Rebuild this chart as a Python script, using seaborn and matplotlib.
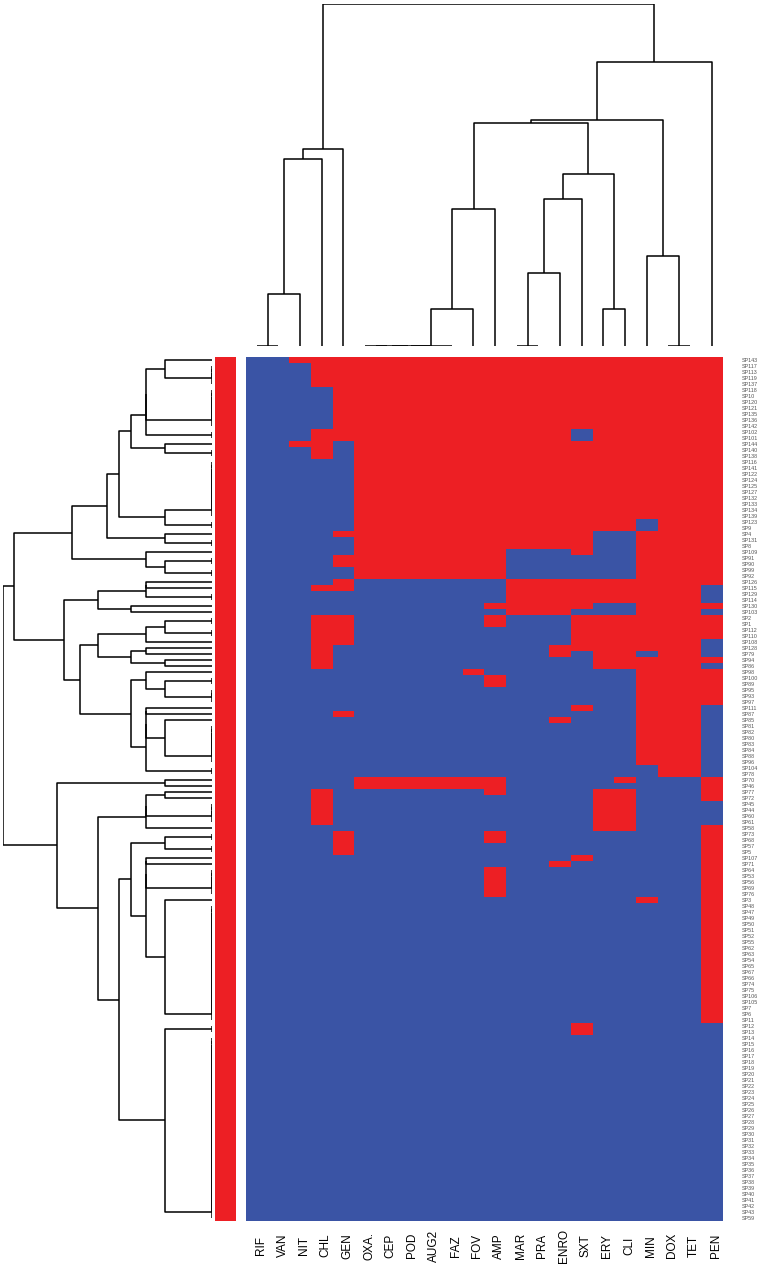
import numpy as np
import pandas as pd
import matplotlib
matplotlib.use("Agg")
import matplotlib.pyplot as plt
import matplotlib.transforms as mtransforms
import seaborn as sns
from matplotlib.colors import ListedColormap

antibiotics = ["RIF", "VAN", "NIT", "CHL", "GEN",
               "OXA.", "CEP", "POD", "AUG2", "FAZ", "FOV", "AMP",
               "MAR", "PRA", "ENRO", "SXT", "ERY", "CLI",
               "MIN", "DOX", "TET", "PEN"]

sample_labels = [
    "SP143", "SP117", "SP113", "SP119", "SP137", "SP118", "SP10", "SP120", "SP121", "SP135",
    "SP136", "SP142", "SP102", "SP101", "SP144", "SP140", "SP138", "SP116", "SP141", "SP122",
    "SP124", "SP125", "SP127", "SP132", "SP133", "SP134", "SP139", "SP123", "SP9", "SP4",
    "SP131", "SP8", "SP109", "SP91", "SP90", "SP99", "SP92", "SP126", "SP115", "SP129",
    "SP114", "SP130", "SP103", "SP2", "SP1", "SP112", "SP110", "SP108", "SP128", "SP79",
    "SP94", "SP86", "SP98", "SP100", "SP89", "SP95", "SP93", "SP97", "SP111", "SP87",
    "SP85", "SP81", "SP82", "SP80", "SP83", "SP84", "SP88", "SP96", "SP104", "SP78",
    "SP70", "SP46", "SP77", "SP72", "SP45", "SP44", "SP60", "SP61", "SP58", "SP73",
    "SP68", "SP57", "SP5", "SP107", "SP71", "SP64", "SP53", "SP56", "SP69", "SP76",
    "SP3", "SP48", "SP47", "SP49", "SP50", "SP51", "SP52", "SP55", "SP62", "SP63",
    "SP54", "SP65", "SP67", "SP66", "SP74", "SP75", "SP106", "SP105", "SP7", "SP6",
    "SP11", "SP12", "SP13", "SP14", "SP15", "SP16", "SP17", "SP18", "SP19", "SP20",
    "SP21", "SP22", "SP23", "SP24", "SP25", "SP26", "SP27", "SP28", "SP29", "SP30",
    "SP31", "SP32", "SP33", "SP34", "SP35", "SP36", "SP37", "SP38", "SP39", "SP40",
    "SP41", "SP42", "SP43", "SP59",
]

# runs of identical rows, top to bottom: (number of rows, profile)
# profile: RIF VAN NIT CHL GEN | OXA CEP POD AUG2 FAZ FOV AMP | MAR PRA ENRO SXT ERY CLI | MIN DOX TET PEN
# 1 = resistant (red), 0 = susceptible (blue)
profile_runs = [
    (1, "00111 1111111 111111 1111"),
    (4, "00011 1111111 111111 1111"),
    (7, "00001 1111111 111111 1111"),
    (2, "00011 1111111 111011 1111"),
    (1, "00110 1111111 111111 1111"),
    (2, "00010 1111111 111111 1111"),
    (10, "00000 1111111 111111 1111"),
    (2, "00000 1111111 111111 0111"),
    (1, "00001 1111111 111100 1111"),
    (2, "00000 1111111 111100 1111"),
    (1, "00000 1111111 000100 1111"),
    (2, "00001 1111111 000000 1111"),
    (2, "00000 1111111 000000 1111"),
    (1, "00001 0000000 111111 1111"),
    (1, "00011 0000000 111111 1110"),
    (2, "00000 0000000 111111 1110"),
    (1, "00000 0000001 111100 1111"),
    (1, "00000 0000000 111000 1110"),
    (2, "00011 0000001 000111 1111"),
    (2, "00011 0000000 000111 1111"),
    (1, "00011 0000000 000111 1110"),
    (1, "00010 0000000 001111 1110"),
    (1, "00010 0000000 001011 0110"),
    (1, "00010 0000000 000011 1111"),
    (1, "00010 0000000 000011 1110"),
    (1, "00000 0000010 000000 1111"),
    (2, "00000 0000001 000000 1111"),
    (3, "00000 0000000 000000 1111"),
    (1, "00000 0000000 000100 1110"),
    (1, "00001 0000000 000000 1110"),
    (1, "00000 0000000 001000 1110"),
    (7, "00000 0000000 000000 1110"),
    (2, "00000 0000000 000000 0110"),
    (1, "00000 1111111 000001 0001"),
    (1, "00000 1111111 000000 0001"),
    (1, "00010 0000001 000011 0001"),
    (1, "00010 0000000 000011 0001"),
    (4, "00010 0000000 000011 0000"),
    (1, "00000 0000000 000011 0001"),
    (2, "00001 0000001 000000 0001"),
    (2, "00001 0000000 000000 0001"),
    (1, "00000 0000000 000100 0001"),
    (1, "00000 0000000 001000 0001"),
    (5, "00000 0000001 000000 0001"),
    (1, "00000 0000000 000000 1001"),
    (20, "00000 0000000 000000 0001"),
    (2, "00000 0000000 000100 0000"),
    (31, "00000 0000000 000000 0000"),
]

# every isolate belongs to the same group (red side bar)
row_group = [1] * len(sample_labels)

blue = "#3A54A5"
red = "#ED1F24"

rows = []
for count, profile in profile_runs:
    rows += [[int(c) for c in profile.replace(" ", "")]] * count
df = pd.DataFrame(rows, index=sample_labels, columns=antibiotics)


def ordered_linkage(data):
    # complete linkage where only neighbours may merge, so leaves keep the drawn order
    data = np.asarray(data, dtype=float)
    n = len(data)
    dist = np.sqrt(((data[:, None, :] - data[None, :, :]) ** 2).sum(-1))
    clusters = [[i] for i in range(n)]
    pos = [i + 0.5 for i in range(n)]
    height = [0.0] * n
    links = []
    while len(clusters) > 1:
        d = [dist[np.ix_(clusters[k], clusters[k + 1])].max() for k in range(len(clusters) - 1)]
        k = int(np.argmin(d))
        h = max(d[k], height[k], height[k + 1])
        links.append(([pos[k], pos[k], pos[k + 1], pos[k + 1]],
                      [height[k], h, h, height[k + 1]]))
        clusters[k] = clusters[k] + clusters.pop(k + 1)
        pos[k] = (pos[k] + pos.pop(k + 1)) / 2
        height[k] = h
        height.pop(k + 1)
    return links, height[0]


W, H = 765, 1267
fig = plt.figure(figsize=(W / 100, H / 100), dpi=100)
plt.rcParams['font.family'] = ['Liberation Sans', 'DejaVu Sans']


def px_axes(x0, y0, x1, y1):
    return fig.add_axes([x0 / W, 1 - y1 / H, (x1 - x0) / W, (y1 - y0) / H])


top, bottom = 356.7, 1220.7
ax_heat = px_axes(246, top, 722.5, bottom)
ax_side = px_axes(215, top, 236, bottom)
ax_row = px_axes(3, top, 212, bottom)
ax_col = px_axes(246, 4, 722.5, 346)

sns.heatmap(df, cmap=ListedColormap([blue, red]), vmin=0, vmax=1, cbar=False,
            ax=ax_heat, xticklabels=antibiotics, yticklabels=sample_labels)
ax_heat.yaxis.tick_right()
ax_heat.tick_params(axis="y", length=0, pad=14, labelsize=3.9, labelcolor="#555555", rotation=0)
ax_heat.tick_params(axis="x", length=0, pad=18, labelsize=8.5, rotation=90)
shift = mtransforms.ScaledTranslation(4 / 100, 0, fig.dpi_scale_trans)
for lab in ax_heat.get_xticklabels():
    lab.set_verticalalignment("center")
    lab.set_transform(lab.get_transform() + shift)
ax_heat.set_xlabel("")
ax_heat.set_ylabel("")

side = pd.DataFrame({"group": row_group}, index=sample_labels)
sns.heatmap(side, cmap=ListedColormap([red]), cbar=False, ax=ax_side,
            xticklabels=False, yticklabels=False)
ax_side.set_xlabel("")
ax_side.set_ylabel("")

row_links, row_top = ordered_linkage(df.values)
for xs, hs in row_links:
    ax_row.plot(hs, xs, color="black", lw=1.1, solid_capstyle="butt")
ax_row.set_ylim(len(df), 0)
ax_row.set_xlim(row_top, 0)
ax_row.axis("off")

col_links, col_top = ordered_linkage(df.values.T)
for xs, hs in col_links:
    ax_col.plot(xs, hs, color="black", lw=1.1, solid_capstyle="butt")
ax_col.set_xlim(0, len(antibiotics))
ax_col.set_ylim(0, col_top)
ax_col.axis("off")

fig.savefig("out.png", dpi=100)
